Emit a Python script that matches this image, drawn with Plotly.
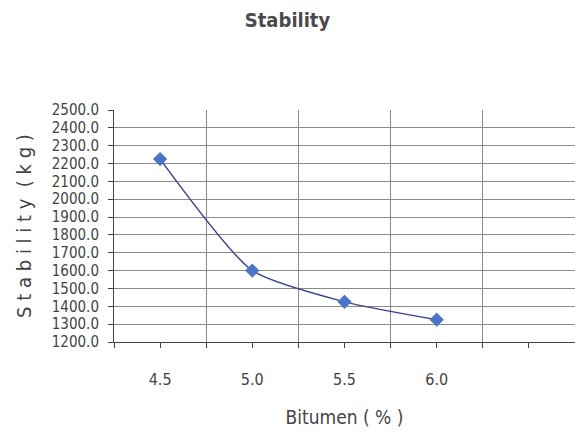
import plotly.graph_objects as go

bitumen = [4.5, 5.0, 5.5, 6.0]
stability = [2225, 1600, 1425, 1325]
x_tick_vals = [4.5, 5.0, 5.5, 6.0, 6.5]
x_tick_text = ["4.5", "5.0", "5.5", "6.0", ""]
y_tick_vals = list(range(1200, 2600, 100))
y_tick_text = [f"{v:.1f}" for v in y_tick_vals]

narrow = "DejaVu Sans Condensed, Liberation Sans Narrow, sans-serif"

fig = go.Figure()
fig.add_trace(go.Scatter(
    x=bitumen, y=stability, mode="lines+markers",
    line=dict(color="#3d4590", width=1.5, shape="spline", smoothing=0.6),
    marker=dict(symbol="diamond", size=11, color="#4a74c6"),
    showlegend=False,
))

fig.update_layout(
    width=575, height=439,
    margin=dict(l=114, r=0, t=110, b=97),
    paper_bgcolor="white", plot_bgcolor="white",
    title=dict(text="<b>Stability</b>", x=0.5, xanchor="center", y=0.955, yanchor="middle",
               font=dict(family=narrow, size=20, color="#4a4a4a")),
    xaxis=dict(
        range=[4.25, 6.75], tickvals=x_tick_vals, ticktext=x_tick_text,
        showgrid=False, ticks="outside", ticklen=5, tickcolor="#444",
        showline=True, linecolor="#444", linewidth=1,
        tickfont=dict(family=narrow, size=16, color="#444"),
        ticklabelstandoff=18,
        minor=dict(tick0=4.75, dtick=0.5, showgrid=True, gridcolor="#8a8a8a", gridwidth=1,
                   ticks="outside", ticklen=5, tickcolor="#444"),
        title=dict(text="Bitumen ( % )", font=dict(family=narrow, size=19, color="#444"), standoff=22),
        zeroline=False, fixedrange=True,
    ),
    yaxis=dict(
        range=[1200, 2500], tickvals=y_tick_vals, ticktext=y_tick_text,
        showgrid=True, gridcolor="#8a8a8a", gridwidth=1,
        ticks="outside", ticklen=5, tickcolor="#444",
        showline=True, linecolor="#444", linewidth=1,
        tickfont=dict(family=narrow, size=15, color="#444"),
        ticklabelstandoff=6,
        title=dict(text="S t a b i l i t y  ( k g )", font=dict(family=narrow, size=20, color="#444"), standoff=14),
        zeroline=False, fixedrange=True,
    ),
)

fig.write_html("out.html")
